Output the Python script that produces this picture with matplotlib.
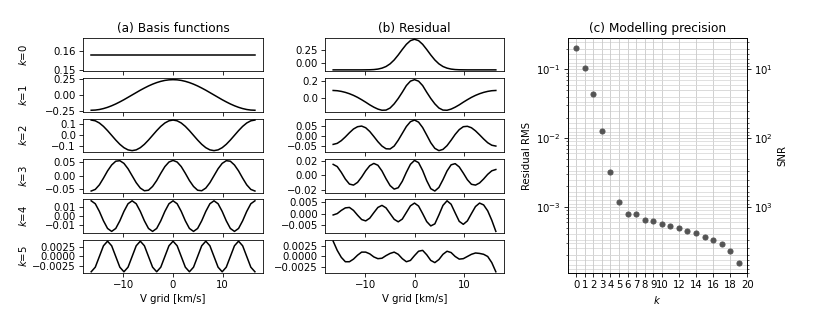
import numpy as np
import matplotlib
matplotlib.use('Agg')
import matplotlib.pyplot as plt

# velocity grid [km/s]
v_grid = np.linspace(-16.5, 16.5, 41)

# (a) basis functions
basis_0 = [0.158] * 41
basis_1 = [-0.245, -0.242, -0.233, -0.218, -0.198, -0.173, -0.144, -0.111, -0.076, -0.038, 0.0,
           0.038, 0.076, 0.111, 0.144, 0.173, 0.198, 0.218, 0.233, 0.242, 0.245,
           0.242, 0.233, 0.218, 0.198, 0.173, 0.144, 0.111, 0.076, 0.038, 0.0,
           -0.038, -0.076, -0.111, -0.144, -0.173, -0.198, -0.218, -0.233, -0.242, -0.245]
basis_2 = [0.140, 0.133, 0.113, 0.082, 0.043, 0.0, -0.043, -0.082, -0.113, -0.133, -0.140,
           -0.133, -0.113, -0.082, -0.043, 0.0, 0.043, 0.082, 0.113, 0.133, 0.140,
           0.133, 0.113, 0.082, 0.043, 0.0, -0.043, -0.082, -0.113, -0.133, -0.140,
           -0.133, -0.113, -0.082, -0.043, 0.0, 0.043, 0.082, 0.113, 0.133, 0.140]
basis_3 = [-0.057, -0.051, -0.034, -0.009, 0.018, 0.040, 0.054, 0.056, 0.046, 0.026, 0.0,
           -0.026, -0.046, -0.056, -0.054, -0.040, -0.018, 0.009, 0.034, 0.051, 0.057,
           0.051, 0.034, 0.009, -0.018, -0.040, -0.054, -0.056, -0.046, -0.026, 0.0,
           0.026, 0.046, 0.056, 0.054, 0.040, 0.018, -0.009, -0.034, -0.051, -0.057]
basis_4 = [0.0172, 0.0139, 0.0053, -0.0053, -0.0139, -0.0172, -0.0139, -0.0053, 0.0053, 0.0139, 0.0172,
           0.0139, 0.0053, -0.0053, -0.0139, -0.0172, -0.0139, -0.0053, 0.0053, 0.0139, 0.0172,
           0.0139, 0.0053, -0.0053, -0.0139, -0.0172, -0.0139, -0.0053, 0.0053, 0.0139, 0.0172,
           0.0139, 0.0053, -0.0053, -0.0139, -0.0172, -0.0139, -0.0053, 0.0053, 0.0139, 0.0172]
basis_5 = [-0.004, -0.0028, 0.0, 0.0028, 0.004, 0.0028, 0.0, -0.0028, -0.004, -0.0028, 0.0,
           0.0028, 0.004, 0.0028, 0.0, -0.0028, -0.004, -0.0028, 0.0, 0.0028, 0.004,
           0.0028, 0.0, -0.0028, -0.004, -0.0028, 0.0, 0.0028, 0.004, 0.0028, 0.0,
           -0.0028, -0.004, -0.0028, 0.0, 0.0028, 0.004, 0.0028, 0.0, -0.0028, -0.004]

# (b) residual after removing basis 0..k
resid_0 = [-0.135, -0.135, -0.135, -0.135, -0.135, -0.135, -0.135, -0.135, -0.134, -0.133, -0.129,
           -0.120, -0.102, -0.071, -0.020, 0.054, 0.149, 0.254, 0.352, 0.422, 0.448,
           0.422, 0.352, 0.254, 0.149, 0.054, -0.020, -0.071, -0.102, -0.120, -0.129,
           -0.133, -0.134, -0.135, -0.135, -0.135, -0.135, -0.135, -0.135, -0.135, -0.135]
resid_1 = [0.091, 0.088, 0.080, 0.068, 0.052, 0.032, 0.008, -0.020, -0.050, -0.082, -0.110,
           -0.133, -0.147, -0.145, -0.120, -0.070, -0.005, 0.070, 0.150, 0.203, 0.221,
           0.203, 0.150, 0.070, -0.005, -0.070, -0.120, -0.145, -0.147, -0.133, -0.110,
           -0.082, -0.050, -0.020, 0.008, 0.032, 0.052, 0.068, 0.080, 0.088, 0.091]
resid_2 = [-0.040, -0.035, -0.022, -0.004, 0.016, 0.034, 0.045, 0.048, 0.040, 0.022, -0.002,
           -0.027, -0.048, -0.061, -0.062, -0.048, -0.020, 0.013, 0.046, 0.069, 0.077,
           0.067, 0.041, 0.005, -0.032, -0.059, -0.070, -0.064, -0.046, -0.020, 0.008,
           0.031, 0.045, 0.047, 0.040, 0.025, 0.006, -0.014, -0.032, -0.044, -0.048]
resid_3 = [0.0150, 0.0120, 0.0041, -0.0051, -0.0119, -0.0133, -0.0096, -0.0023, 0.0063, 0.0132, 0.0163,
           0.0138, 0.0060, -0.0046, -0.0140, -0.0188, -0.0169, -0.0081, 0.0042, 0.0151, 0.0204,
           0.0174, 0.0066, -0.0072, -0.0182, -0.0214, -0.0165, -0.0059, 0.0060, 0.0144, 0.0160,
           0.0115, 0.0031, -0.0060, -0.0122, -0.0133, -0.0104, -0.0049, 0.0014, 0.0062, 0.0080]
resid_4 = [-0.0005, 0.0001, 0.0015, 0.0026, 0.0028, 0.0015, -0.0006, -0.0025, -0.0031, -0.0019, 0.0005,
           0.0028, 0.0037, 0.0026, 0.0001, -0.0024, -0.0035, -0.0023, 0.0006, 0.0035, 0.0047,
           0.0034, 0.0001, -0.0034, -0.0053, -0.0044, -0.0005, 0.0037, 0.0057, 0.0042, 0.0004,
           -0.0033, -0.0046, -0.0031, 0.0001, 0.0032, 0.0047, 0.0039, 0.0013, -0.0028, -0.0077]
resid_5 = [0.0035, 0.0014, -0.0002, -0.0012, -0.0012, -0.0006, 0.0003, 0.0010, 0.0010, 0.0006, -0.0001,
           -0.0005, -0.0004, 0.0002, 0.0007, 0.0010, 0.0005, -0.0005, -0.0012, -0.0009, 0.0002,
           0.0012, 0.0014, 0.0004, -0.0009, -0.0014, -0.0007, 0.0005, 0.0012, 0.0009, 0.0000,
           -0.0006, -0.0005, 0.0000, 0.0005, 0.0008, 0.0007, 0.0005, 0.0000, -0.0014, -0.0035]

# (c) residual RMS per k
k_values = list(range(20))
rms = [0.202, 0.105, 0.0433, 0.01265, 0.00323, 0.00117, 0.000791, 0.000791, 0.000656, 0.00062,
       0.000573, 0.000529, 0.00049, 0.000447, 0.000418, 0.000371, 0.000328, 0.000286, 0.000232, 0.000155]
k_ticks = [0, 1, 2, 3, 4, 5, 6, 7, 8, 9, 10, 12, 14, 16, 18, 20]

basis = [basis_0, basis_1, basis_2, basis_3, basis_4, basis_5]
resid = [resid_0, resid_1, resid_2, resid_3, resid_4, resid_5]

fig = plt.figure(figsize=(830 / 73, 312 / 73), dpi=73)

gs_a = fig.add_gridspec(6, 1, left=0.1, right=0.317, top=0.879, bottom=0.124, hspace=0.2)
gs_b = fig.add_gridspec(6, 1, left=0.3916, right=0.6072, top=0.879, bottom=0.124, hspace=0.2)


def column(gs, series, title, with_labels):
    first = None
    for i, y in enumerate(series):
        ax = fig.add_subplot(gs[i], sharex=first)
        if first is None:
            first = ax
            ax.set_title(title)
        ax.plot(v_grid, y, 'k-')
        if with_labels:
            ax.set_ylabel('$k$=%d' % i)
            ax.yaxis.set_label_coords(-0.30, 0.5)
        if i < len(series) - 1:
            ax.tick_params(labelbottom=False)
        else:
            ax.set_xlabel('V grid [km/s]')
    return first


column(gs_a, basis, '(a) Basis functions', True)
column(gs_b, resid, '(b) Residual', False)

ax_c = fig.add_axes([567.7 / 830, 0.124, 179.6 / 830, 0.755])
ax_c.plot(k_values, rms, 'o', color='0.33', ms=5)
ax_c.set_yscale('log')
ax_c.set_xlim(-1, 20)
ax_c.set_xticks(k_ticks)
ax_c.minorticks_off()
ax_c.set_yscale('log')
ax_c.grid(True, which='major', axis='x', color='0.78')
ax_c.grid(True, which='both', axis='y', color='0.85')
ax_c.set_xlabel('$k$')
ax_c.set_ylabel('Residual RMS')
ax_c.set_title('(c) Modelling precision')

ax_snr = ax_c.twinx()
ax_snr.set_yscale('log')
lo, hi = ax_c.get_ylim()
ax_snr.set_ylim(1 / lo, 1 / hi)
ax_snr.grid(True, which='both', axis='y', color='0.85')
ax_snr.set_ylabel('SNR')

# keep the dots above the SNR grid
ax_c.set_zorder(ax_snr.get_zorder() + 1)
ax_c.patch.set_visible(False)

fig.savefig('out.png', dpi=73)
